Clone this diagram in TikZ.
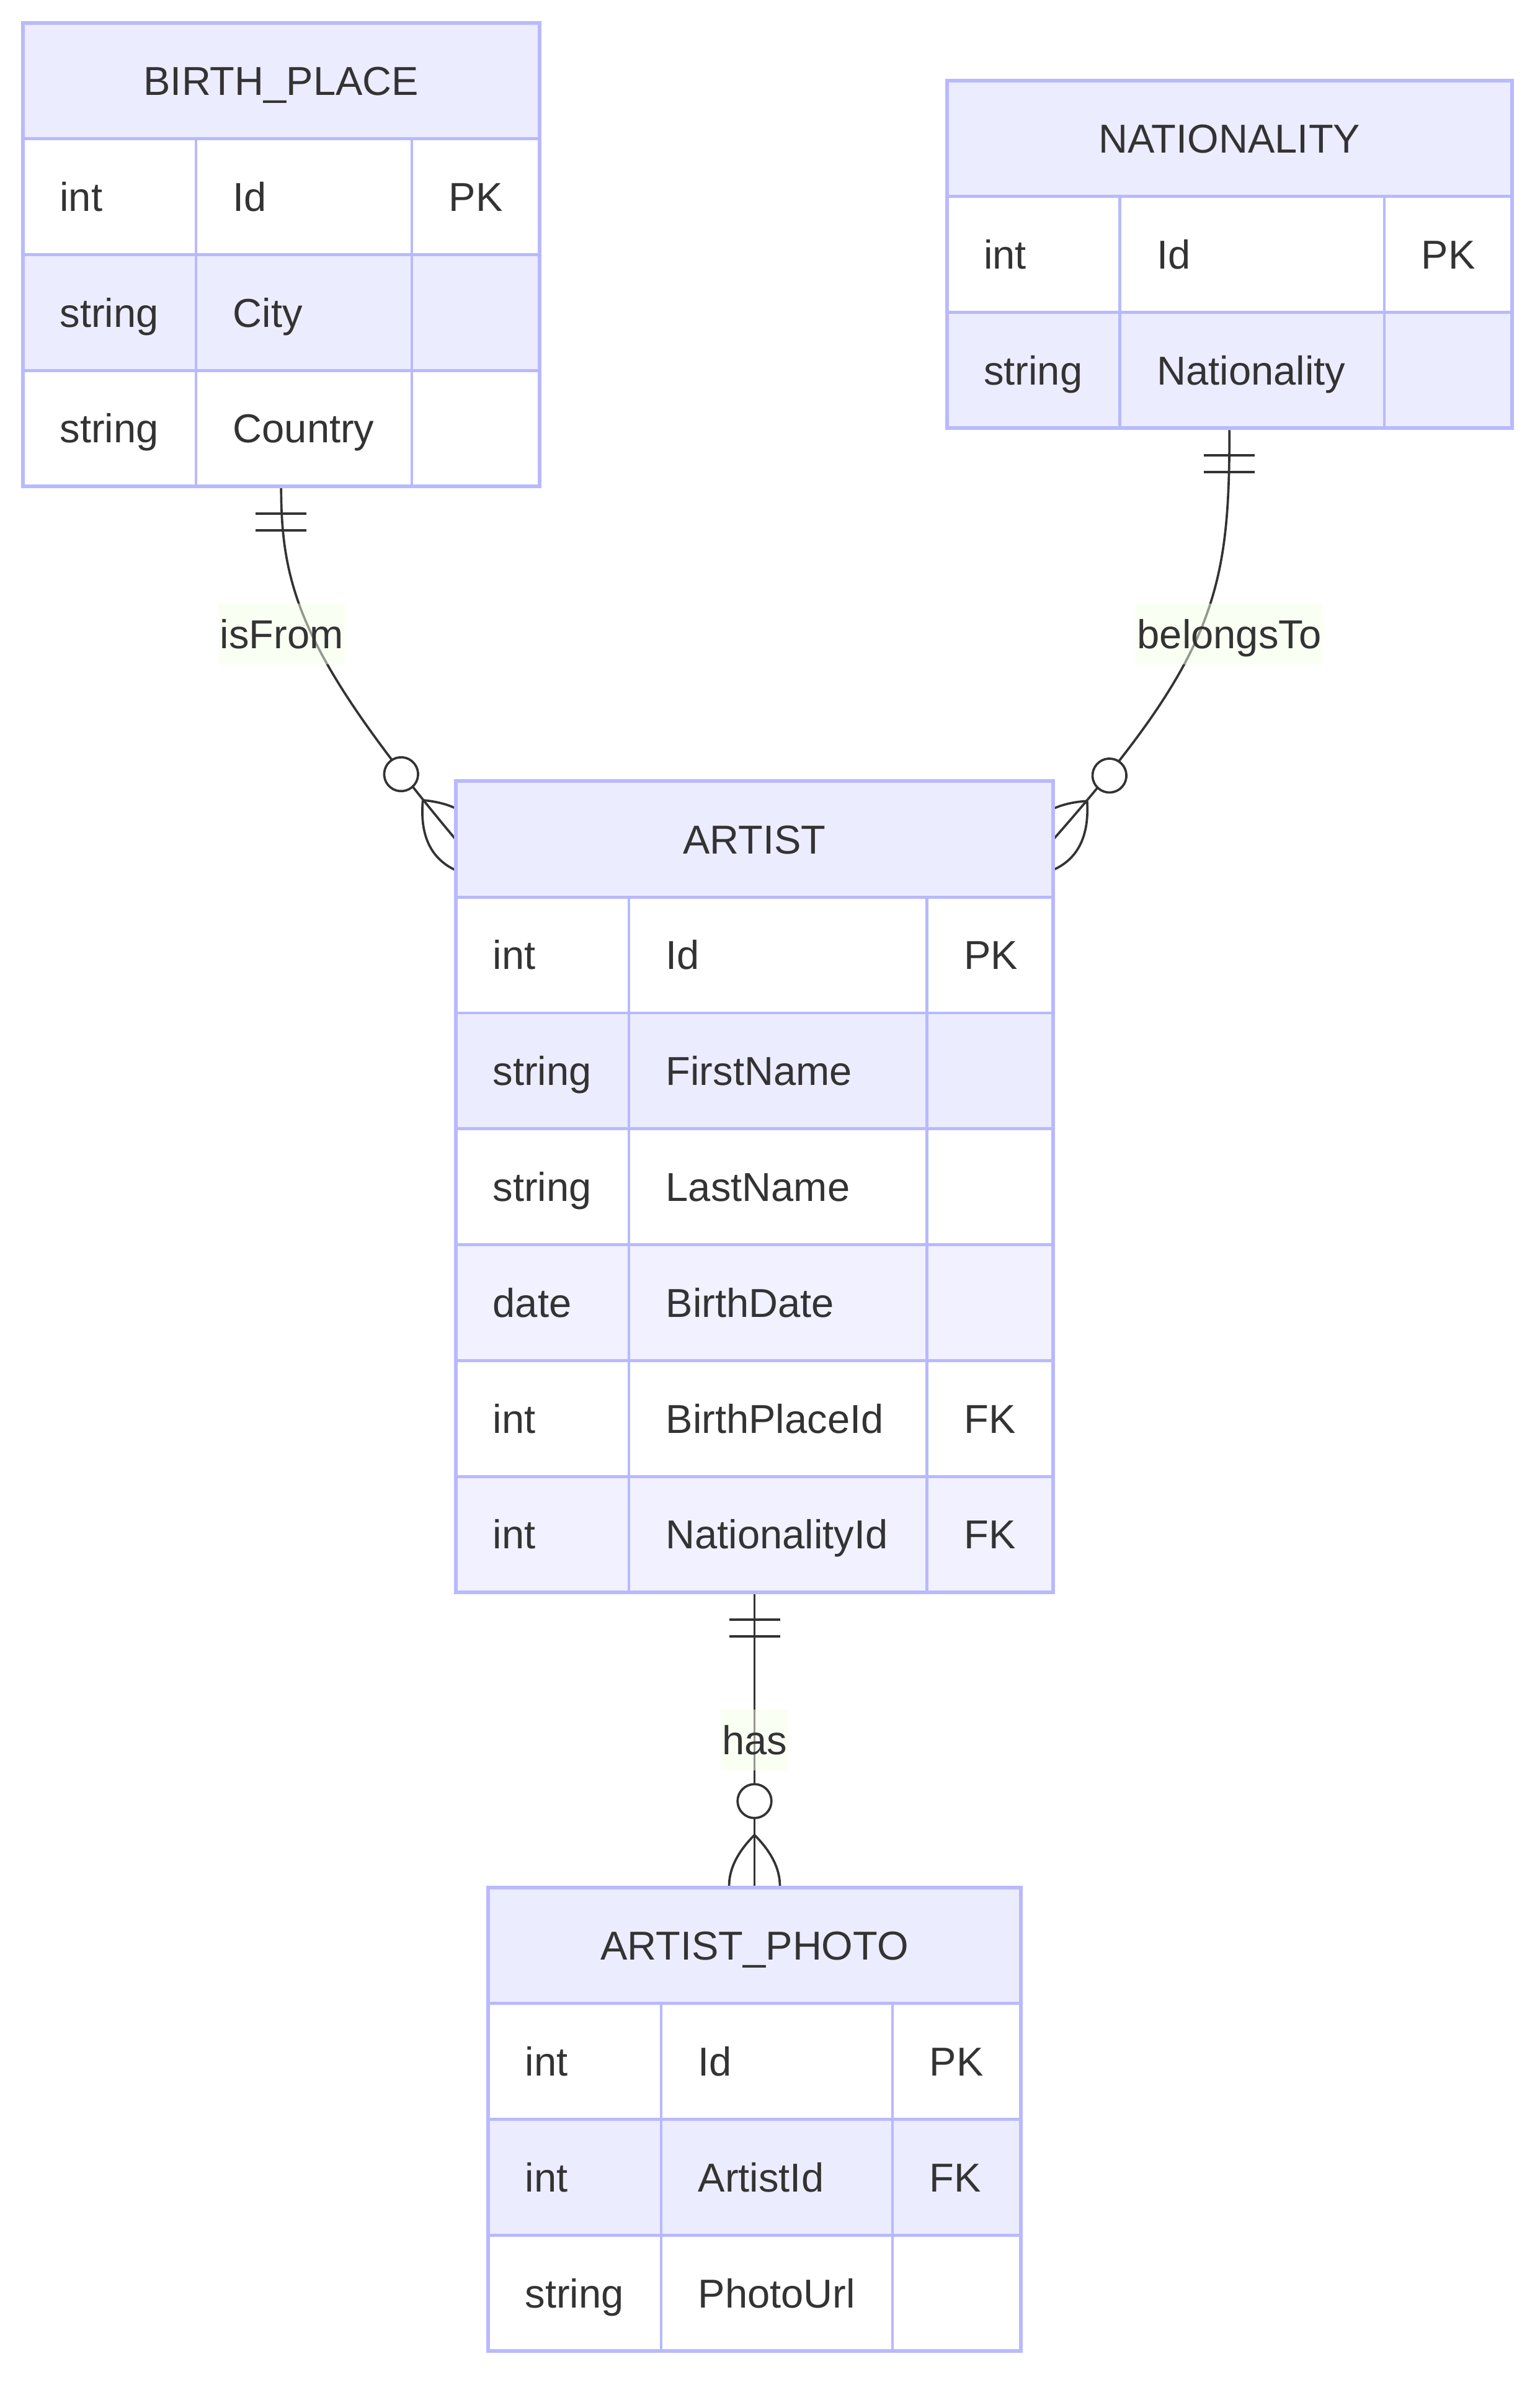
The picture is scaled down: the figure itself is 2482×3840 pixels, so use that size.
\documentclass[tikz,border=0pt]{standalone}
\usepackage{fontspec}
\setmainfont{Liberation Sans}
\usetikzlibrary{fit,calc}
\definecolor{bord}{RGB}{185,185,255}
\definecolor{hdr}{RGB}{236,236,255}
\definecolor{rowB}{RGB}{241,241,255}
\definecolor{ink}{RGB}{51,51,51}
\definecolor{lblbg}{RGB}{245,255,233}
\pgfdeclarelayer{bg}
\pgfsetlayers{bg,main}
\tikzset{
  txt/.style={font=\fontsize{18.5pt}{22pt}\selectfont, text=ink, inner sep=0pt, text height=0.465cm, text depth=0pt},
  cell/.style={txt, anchor=west},
  gridline/.style={draw=bord, line width=1.35pt},
  frame/.style={draw=bord, line width=1.7pt, inner sep=0pt},
  rel/.style={draw=ink, line width=1.05pt},
  lbl/.style={txt, fill=lblbg, fill opacity=0.5, text opacity=1, inner xsep=0.03cm, minimum height=0.98cm},
  zeromany/.pic={
    \draw[rel] (-81.9,0) .. controls (-27.3,54.6) and (27.3,54.6) .. (81.9,0)
                         .. controls (27.3,-54.6) and (-27.3,-54.6) .. (-81.9,0);
    \draw[rel, fill=white] (-136.5,0) circle[radius=0.273cm];
  },
  onebars/.pic={
    \draw[rel] (41,-41) -- (41,41) (68,-41) -- (68,41);
  }
}
% #1 id, #2 left, #3 top, #4 c1, #5 c2, #6 right, #7 nrows, #8 title, #9 rows
\newcommand\ertable[9]{%
  \pgfmathsetmacro\ybot{#3+186.8*(#7+1)}
  \pgfmathsetmacro\yhb{#3+186.8}
  \fill[hdr] (#2,#3) rectangle (#6,\yhb);
  \coordinate (#1-tl) at (#2,#3);
  \coordinate (#1-hb) at (#6,\yhb);
  \coordinate (#1-br) at (#6,\ybot);
  \node[fit=(#1-tl)(#1-hb), inner sep=0pt] (#1H) {};
  \node[txt] (#1T) at (#1H.center) {#8};
  \foreach [count=\i] \ty/\nm/\ky/\col in {#9} {
    \pgfmathsetmacro\ya{#3+186.8*\i}
    \pgfmathsetmacro\yc{\ya+93.4}
    \pgfmathsetmacro\yz{\ya+186.8}
    \fill[\col] (#2,\ya) rectangle (#6,\yz);
    \node[cell] (#1-\i-t) at (#2+59,\yc) {\ty};
    \node[cell] (#1-\i-n) at (#4+59,\yc) {\nm};
    \node[cell] (#1-\i-k) at (#5+59,\yc) {\ky};
    \draw[gridline] (#2,\ya) -- (#6,\ya);
  }
  \draw[gridline] (#4,\yhb) -- (#4,\ybot) (#5,\yhb) -- (#5,\ybot);
  \node[frame, fit=(#1-tl)(#1-br)] (#1) {};
}
\begin{document}
\begin{tikzpicture}[x=0.01cm, y=-0.01cm]
\useasboundingbox (0,0) rectangle (2482,3840);

\ertable{bp}{36.8}{36.8}{316}{664}{869.8}{3}{BIRTH\_PLACE}
  {int/Id/PK/white, string/City//hdr, string/Country//white}
\ertable{nat}{1526.5}{129.9}{1805.8}{2232}{2438}{2}{NATIONALITY}
  {int/Id/PK/white, string/Nationality//hdr}
\ertable{art}{735}{1259.4}{1014}{1494.6}{1698}{6}{ARTIST}
  {int/Id/PK/white, string/FirstName//hdr, string/LastName//white, date/BirthDate//rowB, int/BirthPlaceId/FK/white, int/NationalityId/FK/rowB}
\ertable{pho}{787}{3043}{1066}{1439}{1646}{3}{ARTIST\_PHOTO}
  {int/Id/PK/white, int/ArtistId/FK/hdr, string/PhotoUrl//white}

\begin{pgfonlayer}{bg}
  \draw[rel] (bp.south) .. controls +(0,166) and +(-243,-291) .. (artH.west);
  \draw[rel] (nat.south) .. controls +(0,259) and +(262,-298) .. (artH.east);
  \draw[rel] (art.south) -- (pho.north);
  \pic[rotate=-90] at (bp.south) {onebars};
  \pic[rotate=-90] at (nat.south) {onebars};
  \pic[rotate=-90] at (art.south) {onebars};
  \pic[rotate=-50.1] at (artH.west) {zeromany};
  \pic[rotate=-131.3] at (artH.east) {zeromany};
  \pic[rotate=-90] at (pho.north) {zeromany};
\end{pgfonlayer}

\node[lbl] (l1) at (454,1022) {isFrom};
\node[lbl] (l2) at (1982,1022) {belongsTo};
\node[lbl] (l3) at (1217,2805) {has};
\end{tikzpicture}
\end{document}
